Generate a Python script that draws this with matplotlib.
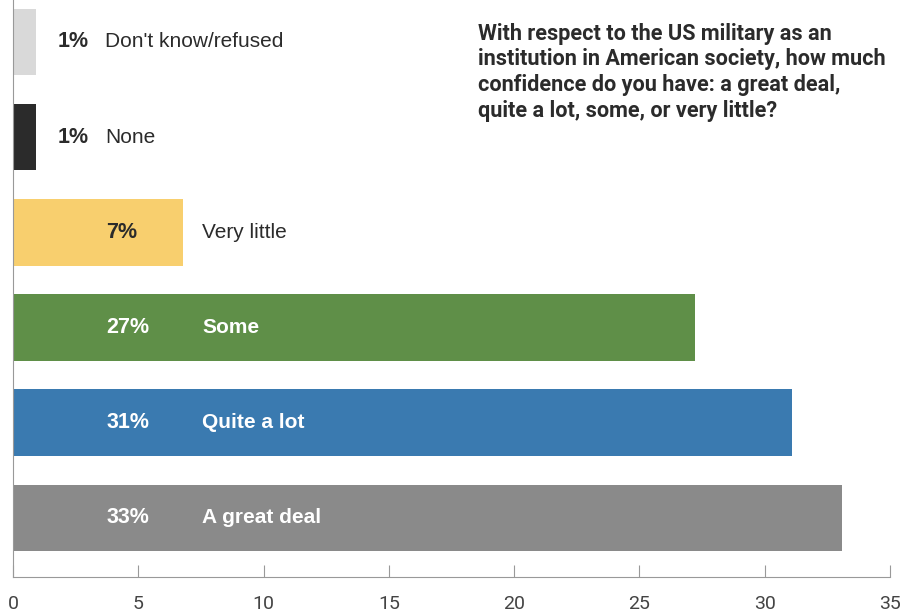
import matplotlib.pyplot as plt

categorias = ['A great deal', 'Quite a lot', 'Some', 'Very little', 'None', "Don't know/refused"]
valores = [33.1, 31.1, 27.2, 6.8, 0.9, 0.9]
cores = ['#8a8a8a', '#3a7ab0', '#5f8f48', '#f8cf6e', '#2b2b2b', '#d9d9d9']
cor_texto = ['white', 'white', 'white', '#2b2b2b', '#2b2b2b', '#2b2b2b']
ticks_x = [0, 5, 10, 15, 20, 25, 30, 35]

titulo = ('With respect to the US military as an\n'
          'institution in American society, how much\n'
          'confidence do you have: a great deal,\n'
          'quite a lot, some, or very little?')

fonte = ['Liberation Sans', 'DejaVu Sans']
fonte_titulo = ['Roboto', 'DejaVu Sans']

fig = plt.figure(figsize=(9.1, 6.14), dpi=100)
ax = fig.add_axes([0.0143, 0.0603, 0.9637, 0.9397])

pos = list(range(len(categorias)))
ax.barh(pos, valores, height=0.7, color=cores)

for y, v, cat, ct in zip(pos, valores, categorias, cor_texto):
    if v < 5:
        xp, xl = 1.8, 3.67
    else:
        xp, xl = 3.72, 7.55
    ax.text(xp, y, f'{round(v)}%', va='center', ha='left', fontsize=15.5,
            fontweight='bold', color=ct, family=fonte)
    if v < 10:
        ax.text(xl, y, cat, va='center', ha='left', fontsize=15,
                color='#2b2b2b', family=fonte)
    else:
        ax.text(xl, y, cat, va='center', ha='left', fontsize=15,
                fontweight='bold', color=ct, family=fonte)

ax.text(0.525, 0.963, titulo, transform=fig.transFigure, ha='left', va='top',
        fontsize=15.6, fontweight='bold', color='#2b2b2b', family=fonte_titulo,
        linespacing=1.22)

ax.set_xlim(0, 35)
ax.set_ylim(-0.62, 5.44)
ax.set_xticks(ticks_x)
ax.set_xticklabels([str(t) for t in ticks_x], family=fonte_titulo,
                   fontsize=14, color='#444444')
ax.set_yticks([])
ax.tick_params(axis='x', direction='in', length=9, color='#999999', pad=13)
for s in ['top', 'right']:
    ax.spines[s].set_visible(False)
ax.spines['left'].set_color('#999999')
ax.spines['bottom'].set_color('#999999')

plt.savefig('out.png', dpi=100)
